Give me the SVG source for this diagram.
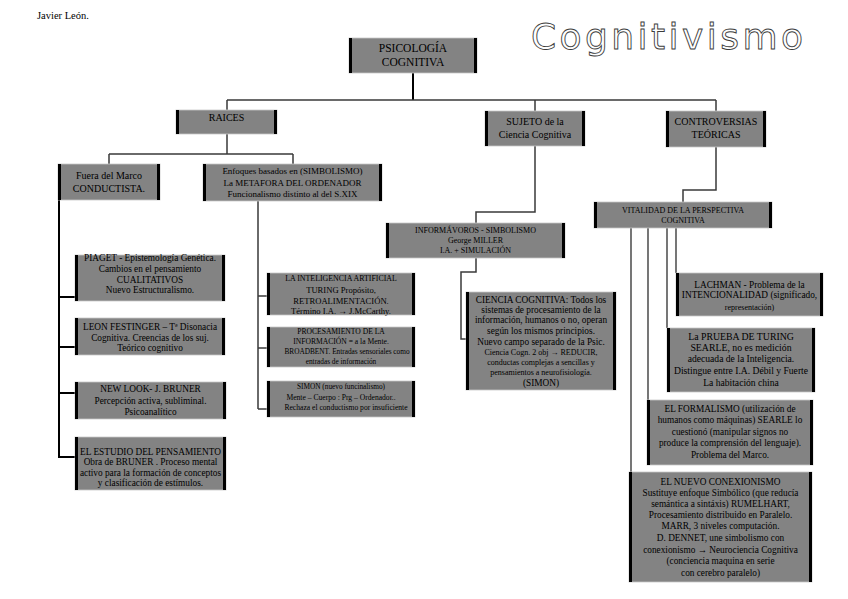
<svg xmlns="http://www.w3.org/2000/svg" width="848" height="599" viewBox="0 0 848 599">
<style>
.bg{fill:#ffffff}
.box{fill:#838383;stroke:#c8c8c8;stroke-width:0.8}
.side{stroke:#000;stroke-width:3}
text{font-family:"Liberation Serif","Times New Roman",serif;fill:#000;text-anchor:middle}
.t12{font-size:11.5px}
.t10{font-size:10px}
.t9{font-size:9.3px}
.t8{font-size:8px}
.t75{font-size:7.6px}
.c{fill:none;stroke:#3a3a3a;stroke-width:1.5}
.ck{fill:none;stroke:#000;stroke-width:2}
.cg{fill:none;stroke:#555;stroke-width:1.6}
</style>
<rect class="bg" width="848" height="599"/>
<text x="37" y="18.5" style="font-size:10.5px;text-anchor:start">Javier León.</text>
<text x="531" y="49" textLength="272" lengthAdjust="spacing" style="font-family:'DejaVu Sans',Verdana,sans-serif;font-size:36px;fill:#fff;stroke:#3c3c3c;stroke-width:0.9;text-anchor:start">Cognitivismo</text>

<g id="connectors">
<path class="ck" d="M413 73V100"/>
<path class="c" d="M227 100H716M227 100V110M535 100V111M716 100V111"/>
<path class="c" d="M227 134V154M109 154H293M109 154V164M293 154V164"/>
<path class="ck" d="M59 200V458M59 297H75M59 347H75M59 393H75M59 457H75"/>
<path class="c" d="M258 201V409M258 296H267M258 348H267M258 409H267"/>
<path class="c" d="M535 146V212H476V223"/>
<path class="c" d="M476 258V272H461V339H467"/>
<path class="c" d="M716 147V190H683V202"/>
<path class="cg" d="M631 228V472M648 228V400M667 228V328M676 228V273"/>
</g>

<g id="psicologia">
<rect class="box" x="349" y="38" width="128" height="35"/>
<path class="side" d="M350.5 38V73M475.5 38V73"/>
<text class="t12" x="413" y="52">PSICOLOGÍA</text>
<text class="t12" x="413" y="66">COGNITIVA</text>
</g>

<g id="raices">
<rect class="box" x="176" y="110" width="101" height="24"/>
<path class="side" d="M177.5 110V134M275.5 110V134"/>
<text class="t10" x="226.5" y="121">RAICES</text>
</g>

<g id="sujeto">
<rect class="box" x="485" y="111" width="100" height="35"/>
<path class="side" d="M486.5 111V146M583.5 111V146"/>
<text class="t10" x="535" y="124.5">SUJETO de la</text>
<text class="t10" x="535" y="137.5">Ciencia Cognitiva</text>
</g>

<g id="controversias">
<rect class="box" x="666" y="111" width="100" height="36"/>
<path class="side" d="M667.5 111V147M764.5 111V147"/>
<text class="t10" x="716" y="124.5">CONTROVERSIAS</text>
<text class="t10" x="716" y="137.5">TEÓRICAS</text>
</g>

<g id="fuera">
<rect class="box" x="58" y="164" width="102" height="36"/>
<path class="side" d="M59.5 164V200M158.5 164V200"/>
<text class="t10" x="109" y="179">Fuera del Marco</text>
<text class="t10" x="109" y="191.5">CONDUCTISTA.</text>
</g>

<g id="enfoques">
<rect class="box" x="203" y="164" width="179" height="37"/>
<path class="side" d="M204.5 164V201M380.5 164V201"/>
<text class="t9" x="292.5" y="174" style="font-size:9px">Enfoques basados en (SIMBOLISMO)</text>
<text class="t9" x="292.5" y="186" style="font-size:9px">La METAFORA DEL ORDENADOR</text>
<text class="t9" x="292.5" y="196.5" style="font-size:9px">Funcionalismo distinto al del S.XIX</text>
</g>

<g id="vitalidad">
<rect class="box" x="594" y="202" width="178" height="26"/>
<path class="side" d="M595.5 202V228M770.5 202V228"/>
<text class="t8" x="683" y="213">VITALIDAD DE LA PERSPECTIVA</text>
<text class="t8" x="683" y="223">COGNITIVA</text>
</g>

<g id="informavoros">
<rect class="box" x="386" y="223" width="179" height="35"/>
<path class="side" d="M387.5 223V258M563.5 223V258"/>
<text class="t8" x="475.5" y="233">INFORMÁVOROS - SIMBOLISMO</text>
<text class="t8" x="475.5" y="243">George MILLER</text>
<text class="t8" x="475.5" y="252.5">I.A. + SIMULACIÓN</text>
</g>

<g id="piaget">
<rect class="box" x="75" y="255" width="150" height="46"/>
<path class="side" d="M76.5 255V301M223.5 255V301"/>
<text class="t9" x="150" y="260.5">PIAGET -  Epistemología Genética.</text>
<text class="t9" x="150" y="272">Cambios en el pensamiento</text>
<text class="t9" x="150" y="282.5">CUALITATIVOS</text>
<text class="t9" x="150" y="292.5">Nuevo Estructuralismo.</text>
</g>

<g id="festinger">
<rect class="box" x="75" y="318" width="150" height="37"/>
<path class="side" d="M76.5 318V355M223.5 318V355"/>
<text class="t9" x="150" y="329.5">LEON FESTINGER – Tª Disonacia</text>
<text class="t9" x="150" y="340.5">Cognitiva. Creencias de los suj.</text>
<text class="t9" x="150" y="350.5">Teórico cognitivo</text>
</g>

<g id="newlook">
<rect class="box" x="75" y="382" width="151" height="37"/>
<path class="side" d="M76.5 382V419M224.5 382V419"/>
<text class="t9" x="150.5" y="391.5">NEW LOOK- J. BRUNER</text>
<text class="t9" x="150.5" y="403.5">Percepción activa, subliminal.</text>
<text class="t9" x="150.5" y="414.5">Psicoanalítico</text>
</g>

<g id="estudio">
<rect class="box" x="75" y="437" width="151" height="53"/>
<path class="side" d="M76.5 437V490M224.5 437V490"/>
<text class="t9" x="150.5" y="454.5">EL ESTUDIO DEL PENSAMIENTO</text>
<text class="t9" x="150.5" y="464.5">Obra de BRUNER . Proceso mental</text>
<text class="t9" x="150.5" y="475.5">activo para  la formación de conceptos</text>
<text class="t9" x="150.5" y="485.5">y clasificación de estímulos.</text>
</g>

<g id="ia">
<rect class="box" x="267" y="273" width="148" height="42"/>
<path class="side" d="M268.5 273V315M413.5 273V315"/>
<text class="t8" x="341" y="281" style="font-size:7.9px">LA INTELIGENCIA ARTIFICIAL</text>
<text class="t9" x="341" y="292.5" style="font-size:8.6px">TURING Propósito,</text>
<text class="t9" x="341" y="303.5" style="font-size:8.6px">RETROALIMENTACIÓN.</text>
<text class="t9" x="341" y="314" style="font-size:8.6px">Término I.A. → J.McCarthy.</text>
</g>

<g id="procesamiento">
<rect class="box" x="267" y="327" width="148" height="40"/>
<path class="side" d="M268.5 327V367M413.5 327V367"/>
<text class="t75" x="341" y="333.5">PROCESAMIENTO DE LA</text>
<text class="t75" x="341" y="343.5">INFORMACIÓN = a la Mente.</text>
<text class="t75" x="347" y="353.5" style="font-size:7.3px">BROADBENT. Entradas sensoriales como</text>
<text class="t75" x="341" y="363.5" style="font-size:7.3px">entradas de información</text>
</g>

<g id="simon">
<rect class="box" x="267" y="381" width="148" height="36"/>
<path class="side" d="M268.5 381V417M413.5 381V417"/>
<text class="t75" x="341" y="388.5" style="font-size:7.3px">SIMON (nuevo funcinalismo)</text>
<text class="t75" x="341" y="399.5">Mente – Cuerpo : Prg – Ordenador..</text>
<text class="t75" x="346" y="410">Rechaza el conductismo por insuficiente</text>
</g>

<g id="ciencia">
<rect class="box" x="466" y="292" width="150" height="98"/>
<path class="side" d="M467.5 292V390M614.5 292V390"/>
<text class="t9" x="541" y="302.5">CIENCIA COGNITIVA: Todos los</text>
<text class="t9" x="541" y="312.5">sistemas de procesamiento de la</text>
<text class="t9" x="541" y="322.5">información, humanos o no, operan</text>
<text class="t9" x="541" y="333.5">según los mismos principios.</text>
<text class="t9" x="541" y="344.5">Nuevo campo separado de la Psic.</text>
<text class="t8" x="541" y="354.5">Ciencia Cogn. 2 obj → REDUCIR,</text>
<text class="t8" x="541" y="365">conductas complejas a sencillas y</text>
<text class="t8" x="541" y="375">pensamientos a neurofisiología.</text>
<text class="t9" x="541" y="385.5">(SIMON)</text>
</g>

<g id="lachman">
<rect class="box" x="676" y="273" width="147" height="43"/>
<path class="side" d="M677.5 273V316M821.5 273V316"/>
<text class="t9" x="749.5" y="287.5">LACHMAN - Problema de la</text>
<text class="t9" x="749.5" y="298">INTENCIONALIDAD (significado,</text>
<text class="t8" x="749.5" y="310">representación)</text>
</g>

<g id="prueba">
<rect class="box" x="667" y="328" width="148" height="64"/>
<path class="side" d="M668.5 328V392M813.5 328V392"/>
<text class="t9" x="741" y="339.5" style="font-size:9.8px">La PRUEBA DE TURING</text>
<text class="t9" x="741" y="350.5" style="font-size:9.8px">SEARLE, no es medición</text>
<text class="t9" x="741" y="361.5" style="font-size:9.6px">adecuada de la Inteligencia.</text>
<text class="t9" x="741" y="373.5" style="font-size:9.6px">Distingue entre I.A. Débil y Fuerte</text>
<text class="t9" x="741" y="385.5" style="font-size:9.6px">La habitación china</text>
</g>

<g id="formalismo">
<rect class="box" x="647" y="400" width="166" height="65"/>
<path class="side" d="M648.5 400V465M811.5 400V465"/>
<text class="t9" x="730" y="411.8">EL FORMALISMO (utilización de</text>
<text class="t9" x="730" y="423.3">humanos como máquinas) SEARLE lo</text>
<text class="t9" x="730" y="434.8">cuestionó (manipular signos no</text>
<text class="t9" x="730" y="446.3">produce la comprensión del lenguaje).</text>
<text class="t9" x="730" y="458">Problema del Marco.</text>
</g>

<g id="conexionismo">
<rect class="box" x="629" y="472" width="183" height="110"/>
<path class="side" d="M630.5 472V582M810.5 472V582"/>
<text class="t9" x="720.5" y="484.5">EL NUEVO CONEXIONISMO</text>
<text class="t9" x="720.5" y="495.5">Sustituye enfoque Simbólico (que reducía</text>
<text class="t9" x="720.5" y="506.5">semántica a sintáxis) RUMELHART,</text>
<text class="t9" x="720.5" y="517.5">Procesamiento distribuido en Paralelo.</text>
<text class="t9" x="720.5" y="529">MARR, 3 niveles computación.</text>
<text class="t9" x="720.5" y="540.5">D. DENNET, une simbolismo con</text>
<text class="t9" x="720.5" y="552.5">conexionismo → Neurociencia Cognitiva</text>
<text class="t9" x="720.5" y="564">(conciencia maquina en serie</text>
<text class="t9" x="720.5" y="576">con cerebro paralelo)</text>
</g>
</svg>
